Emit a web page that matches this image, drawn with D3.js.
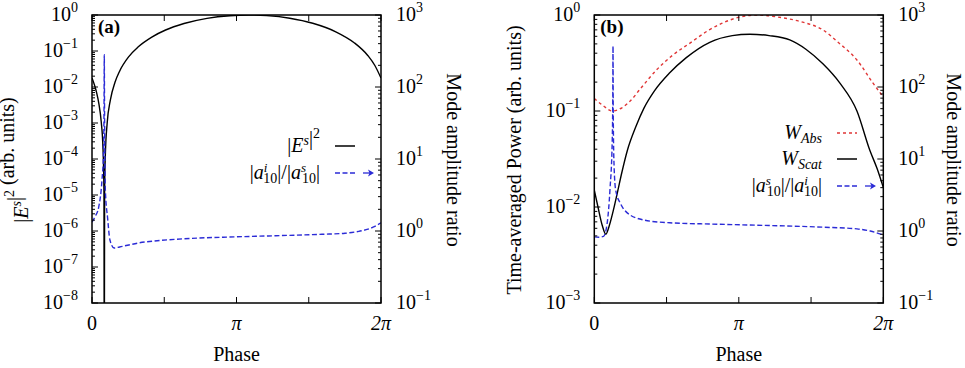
<!DOCTYPE html>
<html>
<head>
<meta charset="utf-8">
<script src="https://cdn.jsdelivr.net/npm/d3@7"></script>
<style>
  body { margin: 0; background: #fff; }
  svg text { font-family: "Liberation Serif", "DejaVu Serif", serif; fill: #000; }
</style>
</head>
<body>
<script>
// ---- data (phase in radians) ----
// panel (a): |E^s|^2 (left axis)
var phaseEsA = [0, 0.05, 0.1, 0.15, 0.2, 0.24, 0.26, 0.267, 0.274, 0.29, 0.33, 0.4, 0.5, 0.6, 0.8, 1.0, 1.3, 1.6, 2.0, 2.5, 3.0, 3.41, 3.8, 4.3, 4.8, 5.3, 5.7, 6.0, 6.15, 6.283];
var esA = [0.0177, 0.0117, 0.007, 0.0034, 0.0011, 0.00018, 0.000012, 1e-11, 0.000012, 0.00013, 0.001, 0.0044, 0.0135, 0.0275, 0.07, 0.129, 0.244, 0.383, 0.58, 0.808, 0.957, 1.0, 0.96, 0.814, 0.589, 0.342, 0.17, 0.074, 0.0395, 0.0177];
// panel (a): |a^i_10|/|a^s_10| (right axis)
var phaseRatioA = [0, 0.07, 0.146, 0.217, 0.25, 0.262, 0.267, 0.272, 0.28, 0.29, 0.34, 0.39, 0.48, 0.6, 0.8, 1.0, 1.5, 2.0, 3.14, 4.0, 5.0, 5.5, 5.8, 6.0, 6.15, 6.283];
var ratioA = [1.33, 1.6, 2.15, 5.1, 12, 60, 280, 60, 10, 3.7, 1.5, 0.75, 0.58, 0.6, 0.64, 0.68, 0.74, 0.78, 0.83, 0.86, 0.9, 0.93, 0.99, 1.06, 1.16, 1.3];

// panel (b): W_Abs (left axis)
var phaseAbsB = [0, 0.2, 0.385, 0.6, 0.8, 1.0, 1.36, 1.7, 2.08, 2.5, 2.8, 3.2, 3.54, 4.0, 4.5, 4.97, 5.3, 5.71, 6.06, 6.283];
var absB = [0.135, 0.113, 0.1, 0.108, 0.13, 0.17, 0.27, 0.38, 0.51, 0.7, 0.83, 0.96, 1.0, 0.95, 0.85, 0.7, 0.52, 0.34, 0.195, 0.14];
// panel (b): W_Scat (left axis)
var phaseScatB = [0, 0.08, 0.17, 0.25, 0.33, 0.42, 0.5, 0.6, 0.72, 0.9, 1.08, 1.3, 1.64, 2.0, 2.51, 3.0, 3.38, 3.8, 4.25, 4.6, 4.97, 5.34, 5.71, 5.99, 6.15, 6.283];
var scatB = [0.015, 0.01, 0.0065, 0.0052, 0.0065, 0.0095, 0.014, 0.023, 0.039, 0.068, 0.107, 0.16, 0.25, 0.36, 0.52, 0.61, 0.63, 0.61, 0.55, 0.44, 0.31, 0.195, 0.1, 0.039, 0.025, 0.016];
// panel (b): |a^s_10|/|a^i_10| (right axis)
var phaseRatioB = [0, 0.1, 0.2, 0.28, 0.34, 0.39, 0.402, 0.407, 0.412, 0.43, 0.465, 0.57, 0.71, 1.08, 1.64, 2.51, 3.38, 4.97, 5.71, 6.0, 6.283];
var ratioB = [0.83, 0.82, 0.84, 1.29, 3.7, 18, 80, 370, 40, 8, 3.7, 2.4, 1.8, 1.42, 1.3, 1.25, 1.21, 1.13, 1.07, 1.0, 0.88];

// axis ticks
var xTickValues = [0, Math.PI / 2, Math.PI, 3 * Math.PI / 2, 2 * Math.PI];
var xTickLabels = ["0", "", "π", "", "2π"];
var leftExpA = [0, -1, -2, -3, -4, -5, -6, -7, -8];
var leftExpB = [0, -1, -2, -3];
var rightExp = [3, 2, 1, 0, -1];

var width = 965;
var height = 368;
var blue = "#2b2bd6";
var red = "#e03636";

var svg = d3.select("body").append("svg")
  .attr("width", width)
  .attr("height", height)
  .attr("font-family", "Liberation Serif, DejaVu Serif, serif");

function sup(sel, t, italic) {
  sel.append("tspan").attr("dy", -7).attr("font-size", 14)
    .attr("font-style", italic ? "italic" : null).text(t);
  sel.append("tspan").attr("dy", 7).text("");
}

function decadeLabel(sel, e) {
  sel.text("10");
  sel.append("tspan").attr("dy", -9).attr("font-size", 14)
    .text(e < 0 ? "\u2212" + (-e) : "" + e);
}

function drawPanel(p) {
  var g = svg.append("g");
  var x = d3.scaleLinear().domain([0, 2 * Math.PI]).range([p.left, p.right]);
  var yL = d3.scaleLog().domain([Math.pow(10, p.leftExp[p.leftExp.length - 1]), 1]).range([p.bottom, p.top]);
  var yR = d3.scaleLog().domain([0.1, 1000]).range([p.bottom, p.top]);

  var clipId = "clip" + p.name;
  svg.append("clipPath").attr("id", clipId).append("rect")
    .attr("x", p.left).attr("y", p.top)
    .attr("width", p.right - p.left).attr("height", p.bottom - p.top);

  var plot = g.append("g").attr("clip-path", "url(#" + clipId + ")");

  p.series.forEach(function(s) {
    var yS = s.axis == "left" ? yL : yR;
    var pts = d3.zip(s.phase, s.values);
    plot.append("path")
      .attr("d", d3.line()
        .x(function(d) { return x(d[0]); })
        .y(function(d) { return yS(Math.max(d[1], 1e-12)); })
        .curve(d3.curveMonotoneX)(pts))
      .attr("fill", "none")
      .attr("stroke", s.color)
      .attr("stroke-width", 1.4)
      .attr("stroke-dasharray", s.dash);
  });

  // left axis ticks
  var lo = p.leftExp[p.leftExp.length - 1];
  for (var e = lo; e <= 0; e++) {
    g.append("line").attr("x1", p.left).attr("x2", p.left + 6)
      .attr("y1", yL(Math.pow(10, e))).attr("y2", yL(Math.pow(10, e)));
    if (e < 0) {
      for (var m = 2; m < 10; m++) {
        var v = m * Math.pow(10, e);
        g.append("line").attr("x1", p.left).attr("x2", p.left + 3)
          .attr("y1", yL(v)).attr("y2", yL(v));
      }
    }
  }
  // right axis ticks
  for (var e2 = -1; e2 <= 3; e2++) {
    g.append("line").attr("x1", p.right).attr("x2", p.right - 6)
      .attr("y1", yR(Math.pow(10, e2))).attr("y2", yR(Math.pow(10, e2)));
    if (e2 < 3) {
      for (var m2 = 2; m2 < 10; m2++) {
        var v2 = m2 * Math.pow(10, e2);
        g.append("line").attr("x1", p.right).attr("x2", p.right - 3)
          .attr("y1", yR(v2)).attr("y2", yR(v2));
      }
    }
  }
  // x ticks (bottom and top)
  xTickValues.forEach(function(t) {
    g.append("line").attr("x1", x(t)).attr("x2", x(t))
      .attr("y1", p.bottom).attr("y2", p.bottom - 6);
    g.append("line").attr("x1", x(t)).attr("x2", x(t))
      .attr("y1", p.top).attr("y2", p.top + 6);
  });
  g.selectAll("line").attr("stroke", "#000").attr("stroke-width", 1);

  // frame
  g.append("rect")
    .attr("x", p.left).attr("y", p.top)
    .attr("width", p.right - p.left).attr("height", p.bottom - p.top)
    .attr("fill", "none").attr("stroke", "#000").attr("stroke-width", 1.5);

  // tick labels
  p.leftExp.forEach(function(e) {
    g.append("text").attr("x", p.left - 14).attr("y", yL(Math.pow(10, e)) + 6)
      .attr("text-anchor", "end").attr("font-size", 20)
      .call(decadeLabel, e);
  });
  rightExp.forEach(function(e) {
    g.append("text").attr("x", p.right + 15).attr("y", yR(Math.pow(10, e)) + 6)
      .attr("font-size", 20)
      .call(decadeLabel, e);
  });
  xTickValues.forEach(function(t, i) {
    g.append("text").attr("x", x(t)).attr("y", p.bottom + 27)
      .attr("text-anchor", "middle").attr("font-size", 20)
      .attr("font-style", i > 0 ? "italic" : null)
      .text(xTickLabels[i]);
  });

  // axis titles
  g.append("text").attr("x", (p.left + p.right) / 2).attr("y", p.bottom + 58)
    .attr("text-anchor", "middle").attr("font-size", 20).text("Phase");
  g.append("text")
    .attr("transform", "translate(" + (p.left + p.rightTitleDx) + "," + 160 + ") rotate(90)")
    .attr("text-anchor", "middle").attr("font-size", 20).text("Mode amplitude ratio");
  var lt = g.append("text")
    .attr("transform", "translate(" + (p.left - p.leftTitleDx) + "," + 160 + ") rotate(-90)")
    .attr("text-anchor", "middle").attr("font-size", 20);
  p.leftTitle(lt);

  // panel tag
  g.append("text").attr("x", p.left + 6).attr("y", 33)
    .attr("font-size", 19).attr("font-weight", "bold").text(p.tag);

  // legend
  p.legend.forEach(function(L) {
    var t = g.append("text").attr("x", L.tx).attr("y", L.y + 6)
      .attr("text-anchor", "end").attr("font-size", 20);
    L.label(t);
    g.append("line").attr("x1", L.lx).attr("x2", L.lx + 20)
      .attr("y1", L.y).attr("y2", L.y)
      .attr("stroke", L.color).attr("stroke-width", 1.5)
      .attr("stroke-dasharray", L.dash);
    if (L.arrow) {
      var ax = L.lx + 28;
      g.append("line").attr("x1", ax).attr("x2", ax + 9)
        .attr("y1", L.y).attr("y2", L.y)
        .attr("stroke", L.color).attr("stroke-width", 1.3);
      g.append("path")
        .attr("d", "M" + (ax + 11) + "," + L.y + "l-6,-3.5l1.5,3.5l-1.5,3.5z")
        .attr("fill", L.color);
    }
  });
}

function ratioLabel(t, up1, up2) {
  t.append("tspan").text("|");
  t.append("tspan").attr("font-style", "italic").text("a");
  t.append("tspan").attr("dy", -7).attr("font-size", 13).attr("font-style", "italic").text(up1);
  t.append("tspan").attr("dx", -4).attr("dy", 11).attr("font-size", 14).text("10");
  t.append("tspan").attr("dy", -4).text("|/|");
  t.append("tspan").attr("font-style", "italic").text("a");
  t.append("tspan").attr("dy", -7).attr("font-size", 13).attr("font-style", "italic").text(up2);
  t.append("tspan").attr("dx", -4).attr("dy", 11).attr("font-size", 14).text("10");
  t.append("tspan").attr("dy", -4).text("|");
}

function subLabel(t, sub) {
  t.append("tspan").attr("font-style", "italic").text("W");
  t.append("tspan").attr("dy", 4).attr("font-size", 14).attr("font-style", "italic").text(sub);
  t.append("tspan").attr("dy", -4).text("");
}

drawPanel({
  name: "a", tag: "(a)",
  left: 92, right: 381, top: 15, bottom: 303,
  leftExp: leftExpA,
  leftTitleDx: 64, rightTitleDx: 355,
  leftTitle: function(t) {
    t.append("tspan").text("|");
    t.append("tspan").attr("font-style", "italic").text("E");
    sup(t, "s", true);
    t.append("tspan").text("|");
    sup(t, "2", false);
    t.append("tspan").text(" (arb. units)");
  },
  series: [
    { phase: phaseEsA, values: esA, axis: "left", color: "#000", dash: null },
    { phase: phaseRatioA, values: ratioA, axis: "right", color: blue, dash: "5,2.5" }
  ],
  legend: [
    { tx: 320, lx: 335, y: 146, color: "#000", dash: null,
      label: function(t) {
        t.append("tspan").text("|");
        t.append("tspan").attr("font-style", "italic").text("E");
        sup(t, "s", true);
        t.append("tspan").text("|");
        sup(t, "2", false);
      } },
    { tx: 320, lx: 335, y: 173, color: blue, dash: "5,2.5", arrow: true,
      label: function(t) { ratioLabel(t, "i", "s"); } }
  ]
});

drawPanel({
  name: "b", tag: "(b)",
  left: 594.3, right: 883.3, top: 15, bottom: 303,
  leftExp: leftExpB,
  leftTitleDx: 73, rightTitleDx: 353,
  leftTitle: function(t) { t.text("Time-averaged Power (arb. units)"); },
  series: [
    { phase: phaseAbsB, values: absB, axis: "left", color: red, dash: "3,3" },
    { phase: phaseScatB, values: scatB, axis: "left", color: "#000", dash: null },
    { phase: phaseRatioB, values: ratioB, axis: "right", color: blue, dash: "5,2.5" }
  ],
  legend: [
    { tx: 822, lx: 837, y: 133, color: red, dash: "3,3",
      label: function(t) { subLabel(t, "Abs"); } },
    { tx: 822, lx: 837, y: 159, color: "#000", dash: null,
      label: function(t) { subLabel(t, "Scat"); } },
    { tx: 822, lx: 837, y: 186, color: blue, dash: "5,2.5", arrow: true,
      label: function(t) { ratioLabel(t, "s", "i"); } }
  ]
});
</script>
</body>
</html>
